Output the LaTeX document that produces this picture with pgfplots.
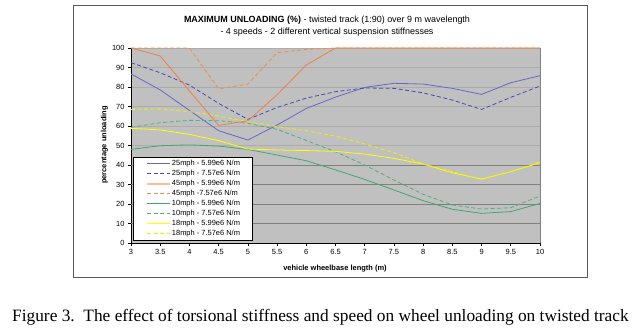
\documentclass[border=0pt]{standalone}
\usepackage{pgfplots}
\pgfplotsset{compat=1.18}
\usepackage{fontspec}
\setmainfont{Liberation Sans}
\newfontfamily\capfont{Liberation Serif}
\definecolor{bgc}{RGB}{192,192,192}
\definecolor{gridl}{RGB}{172,172,172}
\definecolor{gridd}{RGB}{128,128,128}
\definecolor{blues}{RGB}{102,102,204}
\definecolor{blued}{RGB}{72,72,176}
\definecolor{oranges}{RGB}{240,128,64}
\definecolor{oranged}{RGB}{244,140,70}
\definecolor{orangel}{RGB}{255,190,150}
\definecolor{greens}{RGB}{64,168,112}
\definecolor{greend}{RGB}{80,176,124}
\definecolor{yellows}{RGB}{255,255,0}
\definecolor{yellowd}{RGB}{240,240,0}
\definecolor{framec}{RGB}{90,90,90}
\pgfplotsset{
  legend image code/.code={%
    \path (0bp,0bp);
    \draw[#1] (12bp,0bp) -- (35bp,0bp);%
  },
}
\begin{document}
\begin{tikzpicture}
\begin{scope}[x=1bp,y=1bp]
\useasboundingbox (0,0) rectangle (639,330);
\fill[white] (0,0) rectangle (639,330);
\draw[framec, line width=0.8bp] (73,53) rectangle (587,325);
\end{scope}
\begin{axis}[
  at={(131bp,87bp)}, anchor=south west,
  scale only axis, width=409bp, height=195bp,
  xmin=3, xmax=10, ymin=0, ymax=100,
  xtick={3,3.5,...,10}, ytick={0,10,...,100},
  axis background/.style={fill=bgc},
  axis x line*=bottom, axis y line*=left,
  axis line style={black, line width=0.6bp},
  tick style={black, line width=0.6bp},
  tick align=outside, major tick length=3bp,
  ymajorgrids, major grid style={gridl, line width=0.8bp},
  ticklabel style={font=\fontsize{7.5}{9}\selectfont},
  /pgf/number format/assume math mode=true,
  clip=false,
  legend cell align=left,
  legend style={at={(0.005,0.441)}, anchor=north west, draw=black,
    fill=white, font=\fontsize{7.5}{8.5}\selectfont, inner xsep=1bp, inner ysep=2.5bp,
    row sep=1.6bp, nodes={inner sep=0.5bp, text height=5.7bp, text depth=1.6bp}},
]
\draw[gridd, line width=1bp] (axis cs:3,10) -- (axis cs:10,10);
\draw[gridd, line width=1bp] (axis cs:3,20) -- (axis cs:10,20);
\draw[gridd, line width=1bp] (axis cs:3,30) -- (axis cs:10,30);
\draw[gridd, line width=1bp] (axis cs:3,40) -- (axis cs:10,40);
\draw[gridd, line width=0.8bp] (axis cs:10,0) -- (axis cs:10,100);
% legend (explicit images)
\addlegendimage{draw=blues, line width=1bp}
\addlegendentry{25mph - 5.99e6 N/m\hspace*{11bp}}
\addlegendimage{draw=blued, line width=1bp, dash pattern=on 4bp off 2.5bp}
\addlegendentry{25mph - 7.57e6 N/m}
\addlegendimage{draw=orangel, line width=2.2bp}
\addlegendentry{45mph - 5.99e6 N/m}
\addlegendimage{draw=oranged, line width=1bp, dash pattern=on 4bp off 2.5bp}
\addlegendentry{45mph -7.57e6 N/m}
\addlegendimage{draw=greens, line width=1bp}
\addlegendentry{10mph - 5.99e6 N/m}
\addlegendimage{draw=greend, line width=1bp, dash pattern=on 4bp off 2.5bp}
\addlegendentry{10mph - 7.57e6 N/m}
\addlegendimage{draw=yellows, line width=1bp}
\addlegendentry{18mph - 5.99e6 N/m}
\addlegendimage{draw=yellowd, line width=1bp, dash pattern=on 4bp off 2.5bp}
\addlegendentry{18mph - 7.57e6 N/m}
% 25 mph solid
\addplot[draw=blues, line width=0.8bp, forget plot] coordinates {(3,86.7)(3.5,78.5)(4,68)(4.5,57.6)(5,52.8)(5.5,60.5)(6,69)(6.5,74.8)(7,79.8)(7.5,81.9)(8,81.5)(8.5,79.3)(9,76.2)(9.5,82.2)(10,85.8)};
% 25 mph dashed
\addplot[draw=blued, line width=0.8bp, dash pattern=on 4bp off 2.5bp, forget plot] coordinates {(3,92.5)(3.5,87.3)(4,81)(4.5,71.6)(5,63.4)(5.5,69.5)(6,74.3)(6.5,77.6)(7,79.5)(7.5,79.3)(8,77)(8.5,73.3)(9,68.5)(9.5,74.7)(10,80.5)};
% 45 mph dashed
\addplot[draw=oranged, line width=0.8bp, dash pattern=on 4bp off 2.5bp, forget plot] coordinates {(3,100)(3.5,100)(4,100)(4.5,79)(5,81.5)(5.5,97.6)(6,99.3)(6.5,100)(7,100)(7.5,100)(8,100)(8.5,100)(9,100)(9.5,100)(10,100)};
% 10 mph solid
\addplot[draw=greens, line width=0.8bp, forget plot] coordinates {(3,48)(3.5,49.9)(4,50.3)(4.5,49.7)(5,48)(5.5,45.1)(6,42.2)(6.5,37.5)(7,32.6)(7.5,27.2)(8,21.7)(8.5,17.3)(9,15.2)(9.5,16.1)(10,20.3)};
% 10 mph dashed
\addplot[draw=greend, line width=0.8bp, dash pattern=on 4bp off 2.5bp, forget plot] coordinates {(3,59.3)(3.5,61.7)(4,62.9)(4.5,62.7)(5,61.4)(5.5,58.3)(6,52.6)(6.5,46.8)(7,40)(7.5,32.3)(8,25)(8.5,19.5)(9,17.4)(9.5,18.1)(10,24.1)};
% 18 mph solid
\addplot[draw=yellows, line width=0.8bp, forget plot] coordinates {(3,58.8)(3.5,58)(4,55.7)(4.5,52.5)(5,48.2)(5.5,47.7)(6,47.4)(6.5,47)(7,45.6)(7.5,43.4)(8,40.5)(8.5,36)(9,32.8)(9.5,36.6)(10,41.2)};
% 18 mph dashed
\addplot[draw=yellowd, line width=0.8bp, dash pattern=on 4bp off 2.5bp, forget plot] coordinates {(3,68.5)(3.5,68.8)(4,67.4)(4.5,65.1)(5,62.2)(5.5,59.7)(6,57.6)(6.5,54.8)(7,50.8)(7.5,46.3)(8,40.5)(8.5,36.6)(9,32.6)(9.5,36.6)(10,41.7)};
% 45 mph solid
\addplot[draw=oranges, line width=0.8bp, forget plot] coordinates {(3,100)(3.5,95.9)(4,78)(4.5,60.3)(5,62.7)(5.5,76)(6,91.3)(6.5,100)(7,100)(7.5,100)(8,100)(8.5,100)(9,100)(9.5,100)(10,100)};
\end{axis}
\begin{scope}[x=1bp,y=1bp]
\node[font=\fontsize{9}{10}\selectfont, anchor=base] at (327,307.3) {\textbf{MAXIMUM UNLOADING (\%)} - twisted track (1:90) over 9 m wavelength};
\node[font=\fontsize{9}{10}\selectfont, anchor=base] at (327,295.3) {- 4 speeds - 2 different vertical suspension stiffnesses};
\node[rotate=90, font=\bfseries\fontsize{7.5}{9}\selectfont] at (104.5,185) {percentage unloading};
\node[anchor=base, font=\bfseries\fontsize{7.5}{9}\selectfont] at (335,59.5) {vehicle wheelbase length (m)};
\node[anchor=base west, font=\capfont\fontsize{17.4}{20}\selectfont, inner sep=0pt] at (12,9) {Figure 3.\ \ The effect of torsional stiffness and speed on wheel unloading on twisted track};
\end{scope}
\end{tikzpicture}
\end{document}
